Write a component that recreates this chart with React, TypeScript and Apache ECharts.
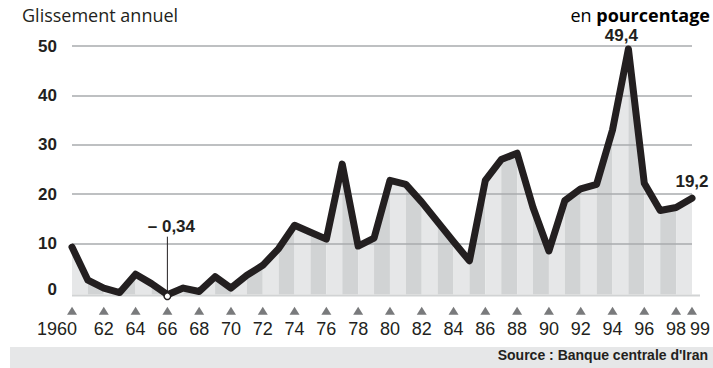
import React, { useEffect, useRef } from "react";
import * as echarts from "echarts";

// Annual inflation in Iran, 1960-1999 (percent)
const years = [
  1960, 1961, 1962, 1963, 1964, 1965, 1966, 1967, 1968, 1969,
  1970, 1971, 1972, 1973, 1974, 1975, 1976, 1977, 1978, 1979,
  1980, 1981, 1982, 1983, 1984, 1985, 1986, 1987, 1988, 1989,
  1990, 1991, 1992, 1993, 1994, 1995, 1996, 1997, 1998, 1999,
];
const inflation = [
  9.3, 2.6, 1.0, 0.1, 3.8, 1.9, -0.34, 1.0, 0.3, 3.3,
  1.0, 3.6, 5.6, 9.0, 13.7, 12.3, 10.9, 26.1, 9.5, 11.1,
  22.8, 22.0, 18.4, 14.4, 10.4, 6.5, 22.8, 27.0, 28.3, 17.3,
  8.5, 18.7, 21.1, 22.0, 33.0, 49.4, 22.2, 16.7, 17.3, 19.2,
];
const tickYears = [
  1960, 1962, 1964, 1966, 1968, 1970, 1972, 1974, 1976, 1978,
  1980, 1982, 1984, 1986, 1988, 1990, 1992, 1994, 1996, 1998, 1999,
];
const calloutYear = 1966;
const labelledYears = [1995, 1999];

const subtitle = "Glissement annuel";
const unitPrefix = "en ";
const unitWord = "pourcentage";
const sourceText = "Source : Banque centrale d'Iran";

const INK = "#231f20";
const STRIPE_LIGHT = "#e6e7e8";
const STRIPE_DARK = "#d1d3d4";
const GRID_GREY = "#a9abae";
const MARKER_GREY = "#58595b";
const FONT = "'Liberation Sans', Arial, Helvetica, sans-serif";
const HUMANIST = "'Open Sans', 'Noto Sans', sans-serif";
const FLOOR = -0.3; // bottom edge of the striped fill, just under zero
const MARKER_LEVEL = -3.6; // row of triangles under the axis

function frNumber(v: number): string {
  const s = String(Math.abs(v)).replace(".", ",");
  return v < 0 ? "\u2013 " + s : s;
}

export default function App() {
  const ref = useRef<HTMLDivElement>(null);

  useEffect(() => {
    if (!ref.current) return;
    const chart = echarts.init(ref.current, null, { renderer: "svg" });

    const stripes = years.slice(0, -1).map((y, i) => [y, inflation[i], years[i + 1], inflation[i + 1], i]);

    const lineData = years.map((y, i) => {
      const item: any = { value: [y, inflation[i]] };
      if (labelledYears.includes(y)) {
        const isPeak = y === 1995;
        item.label = {
          show: true,
          position: "top",
          distance: isPeak ? 4 : 8,
          offset: isPeak ? [-7, 0] : [0, 0],
          formatter: (p: any) => frNumber(p.value[1]),
          fontFamily: FONT,
          fontSize: 17,
          fontWeight: "bold",
          color: INK,
        };
      }
      return item;
    });

    const calloutIndex = years.indexOf(calloutYear);

    const option: any = {
      animation: false,
      backgroundColor: "#ffffff",
      grid: { left: 72, right: 20, top: 46, bottom: 75 },
      xAxis: {
        type: "value",
        min: 1960,
        max: 1999,
        interval: 1,
        axisLine: { show: false },
        axisTick: { show: false },
        splitLine: { show: false },
        axisLabel: {
          margin: 27,
          fontFamily: FONT,
          fontSize: 18,
          color: INK,
          formatter: (v: number) => {
            if (!tickYears.includes(v)) return "";
            if (v === 1960) return "{first|1960}";
            if (v === 1999) return "{last|99}";
            return String(v % 100).padStart(2, "0");
          },
          rich: {
            first: { fontFamily: FONT, fontSize: 18, color: INK, padding: [0, 30, 0, 0] },
            last: { fontFamily: FONT, fontSize: 18, color: INK, padding: [0, 0, 0, 16] },
          },
        },
      },
      yAxis: {
        type: "value",
        min: 0,
        max: 50,
        interval: 10,
        z: 1,
        axisLine: { show: false },
        axisTick: { show: false },
        splitLine: { show: true, showMinLine: false, lineStyle: { color: GRID_GREY, width: 1.5 } },
        axisLabel: {
          margin: 15,
          fontFamily: FONT,
          fontSize: 17,
          fontWeight: "bold",
          color: INK,
          formatter: (v: number) => (v === 0 ? "{zero|0}" : String(v)),
          rich: {
            zero: { fontFamily: FONT, fontSize: 17, fontWeight: "bold", color: INK, padding: [0, 0, 7, 0] },
          },
        },
      },
      series: [
        {
          // alternating yearly stripes filling the area under the curve
          type: "custom",
          z: 0,
          silent: true,
          clip: false,
          data: stripes,
          encode: { x: [0, 2], y: [1, 3] },
          renderItem: (_p: any, api: any) => {
            const x0 = api.value(0), v0 = api.value(1), x1 = api.value(2), v1 = api.value(3);
            const idx = api.value(4);
            const a = api.coord([x0, FLOOR]);
            const b = api.coord([x0, v0]);
            const c = api.coord([x1, v1]);
            const d = api.coord([x1, FLOOR]);
            return {
              type: "polygon",
              shape: { points: [a, b, c, d] },
              style: { fill: idx % 2 ? STRIPE_DARK : STRIPE_LIGHT },
            };
          },
        },
        {
          // base line under the stripes
          type: "custom",
          z: 0,
          silent: true,
          clip: false,
          data: [[years[0], years[years.length - 1]]],
          renderItem: (_p: any, api: any) => {
            const s = api.coord([api.value(0), FLOOR]);
            const e = api.coord([api.value(1), FLOOR]);
            return {
              type: "line",
              shape: { x1: s[0], y1: s[1] + 1, x2: e[0] + 8, y2: e[1] + 1 },
              style: { stroke: STRIPE_DARK, lineWidth: 2 },
            };
          },
        },
        {
          type: "line",
          z: 3,
          clip: false,
          data: lineData,
          symbol: "circle",
          symbolSize: 1,
          showSymbol: true,
          itemStyle: { color: INK },
          lineStyle: { color: INK, width: 7, cap: "round", join: "round" },
        },
        {
          // year markers
          type: "scatter",
          z: 2,
          silent: true,
          clip: false,
          data: tickYears.map((y) => [y, MARKER_LEVEL]),
          symbol: "triangle",
          symbolSize: [10, 8],
          itemStyle: { color: MARKER_GREY },
        },
        {
          // minimum value call-out
          type: "custom",
          z: 4,
          silent: true,
          clip: false,
          data: [[calloutYear, inflation[calloutIndex]]],
          renderItem: (_p: any, api: any) => {
            const v = api.value(1);
            const p = api.coord([api.value(0), v]);
            return {
              type: "group",
              children: [
                {
                  type: "line",
                  shape: { x1: p[0], y1: p[1] - 3, x2: p[0], y2: p[1] - 58 },
                  style: { stroke: INK, lineWidth: 1 },
                },
                {
                  type: "circle",
                  shape: { cx: p[0], cy: p[1] + 1.5, r: 3.3 },
                  style: { fill: "#ffffff", stroke: INK, lineWidth: 1.5 },
                },
                {
                  type: "text",
                  x: p[0] + 4,
                  y: p[1] - 68,
                  style: {
                    text: frNumber(v),
                    fontFamily: FONT,
                    fontSize: 17,
                    fontWeight: "bold",
                    fill: INK,
                    align: "center",
                    verticalAlign: "middle",
                  },
                },
              ],
            };
          },
        },
      ],
      graphic: [
        {
          type: "text",
          left: 22,
          top: 6,
          style: { text: subtitle, fontFamily: HUMANIST, fontSize: 18, fill: INK },
        },
        {
          type: "text",
          right: 3,
          top: 6,
          style: {
            text: `{n|${unitPrefix}}{b|${unitWord}}`,
            rich: {
              n: { fontFamily: HUMANIST, fontSize: 18, color: INK },
              b: { fontFamily: HUMANIST, fontSize: 18, fontWeight: "bold", color: INK },
            },
          },
        },
        {
          type: "rect",
          left: 10,
          top: 347,
          shape: { width: 703, height: 21 },
          style: { fill: "#e6e7e8" },
          silent: true,
        },
        {
          type: "text",
          right: 5,
          top: 348,
          style: { text: sourceText, fontFamily: FONT, fontSize: 14, fontWeight: "bold", fill: INK },
        },
      ],
    };

    chart.setOption(option);
    return () => chart.dispose();
  }, []);

  return (
    <div
      ref={ref}
      style={{ position: "fixed", left: 0, top: 0, width: 713, height: 368, background: "#ffffff" }}
    />
  );
}
